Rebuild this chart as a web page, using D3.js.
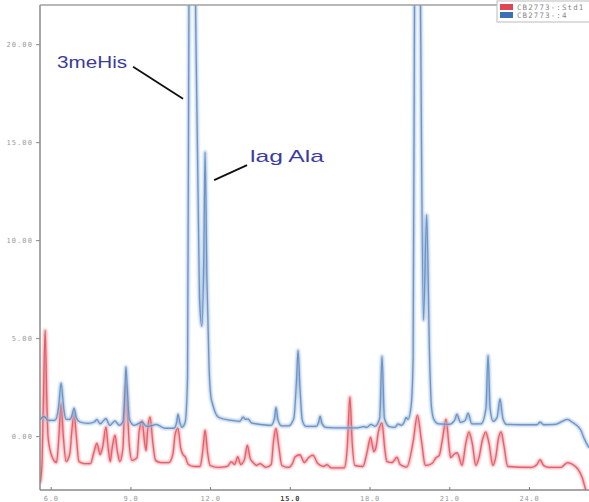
<!DOCTYPE html>
<html>
<head>
<meta charset="utf-8">
<script src="https://cdnjs.cloudflare.com/ajax/libs/d3/7.8.5/d3.min.js"></script>
<style>
    body { margin: 0; background: #fff; }
    svg { display: block; }
</style>
</head>
<body>
<div id="chart"></div>
<script>
// Retention time (min) ticks and signal ticks
var timeTicks = [6, 9, 12, 15, 18, 21, 24];
var signalTicks = [0, 5, 10, 15, 20];

// Legend entries
var seriesNames = ['CB2773-:Std1', 'CB2773-:4'];

// Sample trace (blue), [time, signal]
var sampleTrace = [
    [5.60, 0.85], [5.75, 1.00], [5.90, 0.80], [6.16, 0.80], [6.29, 1.40], [6.39, 2.72],
    [6.50, 1.30], [6.58, 0.85], [6.73, 0.85], [6.80, 1.05], [6.88, 1.43], [6.96, 0.95],
    [7.10, 0.72], [7.40, 0.65], [7.64, 0.72], [7.74, 0.85], [7.86, 0.62], [8.08, 0.90],
    [8.22, 0.55], [8.42, 0.78], [8.58, 0.55], [8.72, 0.75], [8.79, 2.20], [8.83, 3.55],
    [8.89, 2.20], [8.96, 0.85], [9.15, 0.55], [9.44, 0.72], [9.60, 0.50], [9.85, 0.55],
    [9.96, 0.60], [10.30, 0.40], [10.64, 0.40], [10.74, 0.70], [10.79, 1.12], [10.86, 0.70],
    [10.94, 0.45], [11.06, 0.70], [11.15, 3.0], [11.21, 25], [11.32, 40], [11.43, 25],
    [11.60, 7.0], [11.69, 5.6], [11.76, 9.0], [11.81, 14.5], [11.88, 8.0], [11.96, 3.5],
    [12.03, 2.0], [12.10, 1.6], [12.18, 1.25], [12.33, 0.95], [12.82, 0.80], [13.12, 0.75],
    [13.24, 0.98], [13.33, 0.85], [13.43, 0.88], [13.55, 0.68], [14.00, 0.58], [14.30, 0.55],
    [14.42, 0.90], [14.48, 1.48], [14.55, 0.85], [14.68, 0.52], [14.95, 0.52], [15.15, 0.90],
    [15.25, 2.80], [15.31, 4.39], [15.38, 2.50], [15.47, 0.80], [15.60, 0.50], [16.00, 0.50],
    [16.08, 0.70], [16.14, 1.02], [16.21, 0.65], [16.35, 0.45], [17.00, 0.42], [17.50, 0.42],
    [17.78, 0.48], [17.90, 0.45], [18.05, 0.60], [18.20, 0.50], [18.38, 0.90], [18.47, 4.08],
    [18.56, 0.90], [18.75, 0.48], [18.96, 0.45], [19.07, 0.62], [19.20, 0.55], [19.30, 0.70],
    [19.37, 0.95], [19.45, 0.85], [19.57, 1.60], [19.64, 4.0], [19.70, 25], [19.79, 40],
    [19.90, 25], [20.03, 5.9], [20.15, 11.3], [20.26, 4.0], [20.33, 1.5], [20.42, 0.85],
    [20.60, 0.62], [21.00, 0.60], [21.20, 0.80], [21.29, 1.12], [21.42, 0.70], [21.60, 0.80],
    [21.71, 1.17], [21.85, 0.62], [22.20, 0.62], [22.38, 1.40], [22.46, 4.13], [22.54, 1.40],
    [22.65, 0.75], [22.80, 0.95], [22.91, 1.90], [23.02, 0.90], [23.15, 0.60], [23.66, 0.58],
    [24.30, 0.58], [24.42, 0.72], [24.55, 0.58], [25.00, 0.60], [25.25, 0.75], [25.45, 0.85],
    [25.62, 0.72], [25.95, 0.31], [26.07, -0.10], [26.26, -0.60]
];

// Standard trace (red), [time, signal]
var standardTrace = [
    [5.60, -2.40], [5.67, -1.50], [5.72, 1.50], [5.79, 5.41], [5.86, 1.50], [5.90, -0.05],
    [6.05, -1.05], [6.22, -1.35], [6.29, -0.40], [6.39, 1.68], [6.48, -0.10], [6.58, -1.30],
    [6.72, -0.90], [6.79, 0.20], [6.88, 1.17], [6.97, -0.10], [7.06, -1.30], [7.25, -1.40],
    [7.50, -1.40], [7.62, -0.85], [7.74, -0.36], [7.86, -0.95], [7.95, -0.60], [8.08, 0.47],
    [8.17, -0.70], [8.24, -1.30], [8.32, -0.55], [8.42, 0.05], [8.51, -0.80], [8.60, -1.30],
    [8.72, -0.60], [8.77, 1.30], [8.83, 2.60], [8.89, 1.30], [8.96, -0.50], [9.06, -1.25],
    [9.25, -1.10], [9.33, 0.25], [9.44, 0.78], [9.53, -0.30], [9.59, -0.75], [9.65, 0.35],
    [9.74, 0.98], [9.84, -0.30], [9.95, -1.25], [10.15, -1.35], [10.45, -1.35], [10.60, -0.90],
    [10.69, 0.15], [10.79, 0.41], [10.89, -0.60], [10.98, -0.95], [11.06, -1.05], [11.18, -1.45],
    [11.40, -1.55], [11.62, -1.55], [11.71, -0.90], [11.81, 0.31], [11.91, -0.90], [12.00, -1.50],
    [12.30, -1.60], [12.65, -1.55], [12.80, -1.30], [12.92, -1.45], [13.04, -1.05], [13.15, -1.45],
    [13.29, -1.20], [13.40, -0.46], [13.51, -1.15], [13.62, -1.35], [13.75, -1.50], [13.88, -1.40],
    [14.10, -1.60], [14.30, -1.45], [14.39, -0.20], [14.48, 0.40], [14.58, -0.50], [14.70, -1.50],
    [14.95, -1.60], [15.10, -1.40], [15.20, -1.05], [15.38, -0.95], [15.55, -1.35], [15.70, -1.10],
    [15.87, -0.97], [16.05, -1.40], [16.28, -1.55], [16.40, -1.45], [16.55, -1.62], [17.05, -1.62],
    [17.16, -0.60], [17.26, 2.00], [17.35, -0.40], [17.45, -1.50], [17.75, -1.55], [17.91, -0.80],
    [18.04, -0.05], [18.16, -0.80], [18.24, -0.60], [18.33, 0.20], [18.47, 0.68], [18.57, -0.60],
    [18.65, -1.30], [18.85, -1.35], [19.03, -1.07], [19.15, -1.45], [19.40, -1.58], [19.64, -0.30],
    [19.80, 1.07], [19.96, -0.30], [20.10, -1.50], [20.35, -1.40], [20.50, -1.10], [20.62, -1.00],
    [20.74, -0.20], [20.88, 0.87], [20.99, -0.50], [21.05, -1.10], [21.20, -0.90], [21.30, -0.85],
    [21.48, -1.50], [21.62, -0.40], [21.74, 0.22], [21.87, -0.40], [22.00, -1.50], [22.12, -1.10],
    [22.24, -0.25], [22.37, 0.22], [22.50, -0.40], [22.64, -1.50], [22.76, -1.00], [22.84, -0.20],
    [22.95, 0.22], [23.06, -0.50], [23.20, -1.55], [24.10, -1.60], [24.30, -1.45], [24.42, -1.20],
    [24.55, -1.50], [24.75, -1.60], [25.20, -1.60], [25.45, -1.35], [25.65, -1.45], [25.85, -1.70],
    [26.00, -2.10], [26.15, -2.80], [26.26, -3.20]
];

// Peak labels: text position and leader line (data units)
var peakLabels = ['3meHis', 'lag Ala'];
var labelAnchors = [[6.24, 18.8], [13.50, 14.0]];
var leaderLines = [[[9.10, 18.85], [10.98, 17.22]], [[13.39, 13.83], [12.15, 13.06]]];

var width = 589, height = 502;
var margin = {left: 40, right: 0, top: 5, bottom: 12};

var traceColors = {
    red: {core: '#df4552', halo: '#f09aa2'},
    blue: {core: '#5583bb', halo: '#a3bfe0'}
};

var x = d3.scaleLinear().domain([5.597, 26.26]).range([margin.left, width - margin.right]);
var y = d3.scaleLinear().domain([-2.75, 22]).range([height - margin.bottom, margin.top]);

var svg = d3.select('#chart').append('svg')
    .attr('width', width)
    .attr('height', height);

var defs = svg.append('defs');
defs.append('clipPath').attr('id', 'plotClip')
    .append('rect')
    .attr('x', margin.left)
    .attr('y', margin.top)
    .attr('width', width - margin.left - margin.right)
    .attr('height', height - margin.top - margin.bottom);
// soft edge, like the scanned print
defs.append('filter').attr('id', 'soft')
    .attr('x', '-5%').attr('y', '-5%').attr('width', '110%').attr('height', '110%')
    .append('feGaussianBlur').attr('stdDeviation', 0.9);

var line = d3.line()
    .x(function(d) { return x(d[0]); })
    .y(function(d) { return y(d[1]); })
    .curve(d3.curveMonotoneX);

var plot = svg.append('g').attr('clip-path', 'url(#plotClip)');

// draw each trace with a blurred halo under a thin core
function drawTrace(data, colors) {
    plot.append('path')
        .datum(data)
        .attr('fill', 'none')
        .attr('stroke', colors.halo)
        .attr('stroke-width', 3.2)
        .attr('stroke-opacity', 0.9)
        .attr('stroke-linejoin', 'round')
        .attr('filter', 'url(#soft)')
        .attr('d', line);
    plot.append('path')
        .datum(data)
        .attr('fill', 'none')
        .attr('stroke', colors.core)
        .attr('stroke-width', 1.3)
        .attr('stroke-opacity', 0.75)
        .attr('stroke-linejoin', 'round')
        .attr('d', line);
}

drawTrace(standardTrace, traceColors.red);
drawTrace(sampleTrace, traceColors.blue);

// Axes
var yAxis = d3.axisLeft(y).tickValues(signalTicks).tickSize(4).tickPadding(3)
    .tickFormat(d3.format('.2f'));
var gy = svg.append('g').attr('transform', 'translate(' + margin.left + ',0)').call(yAxis);
gy.select('.domain').remove();
gy.selectAll('.tick line').attr('stroke', '#888');
gy.selectAll('.tick text')
    .attr('fill', '#9a9a9a')
    .style('font', '7px "DejaVu Sans Mono", monospace')
    .style('letter-spacing', '1.1px');

var xAxis = d3.axisBottom(x).tickValues(timeTicks).tickSize(-3).tickPadding(6)
    .tickFormat(d3.format('.1f'));
var gx = svg.append('g').attr('transform', 'translate(0,' + (height - margin.bottom) + ')').call(xAxis);
gx.select('.domain').remove();
gx.selectAll('.tick line').attr('stroke', '#777');
gx.selectAll('.tick text')
    .style('font', '7px "DejaVu Sans Mono", monospace')
    .style('letter-spacing', '0.8px')
    .style('font-weight', function(d) { return d === 15 ? 'bold' : 'normal'; })
    .attr('fill', function(d) { return d === 15 ? '#444' : '#999'; });

// Frame: left, bottom and top lines
svg.append('line')
    .attr('x1', margin.left).attr('x2', margin.left)
    .attr('y1', margin.top).attr('y2', height - margin.bottom)
    .attr('stroke', '#8a8a8a').attr('stroke-width', 1.5);
svg.append('line')
    .attr('x1', margin.left).attr('x2', width)
    .attr('y1', height - margin.bottom).attr('y2', height - margin.bottom)
    .attr('stroke', '#8a8a8a').attr('stroke-width', 1.5);
svg.append('line')
    .attr('x1', margin.left).attr('x2', width)
    .attr('y1', margin.top).attr('y2', margin.top)
    .attr('stroke', '#a0a0a0').attr('stroke-width', 1.5);

// Peak labels with leader lines (the scan stretches the lettering sideways)
var labelWidths = [70, 74];
peakLabels.forEach(function(label, i) {
    svg.append('text')
        .attr('x', x(labelAnchors[i][0]))
        .attr('y', y(labelAnchors[i][1]))
        .attr('fill', '#3c3ca0')
        .attr('textLength', labelWidths[i])
        .attr('lengthAdjust', 'spacingAndGlyphs')
        .style('font', '17px "Liberation Sans", Arial, sans-serif')
        .text(label);
    svg.append('line')
        .attr('x1', x(leaderLines[i][0][0])).attr('y1', y(leaderLines[i][0][1]))
        .attr('x2', x(leaderLines[i][1][0])).attr('y2', y(leaderLines[i][1][1]))
        .attr('stroke', '#111').attr('stroke-width', 1.8);
});

// Legend box in the top right corner
var legend = svg.append('g').attr('transform', 'translate(497,1)');
legend.append('rect')
    .attr('width', 100).attr('height', 21)
    .attr('fill', '#fff').attr('stroke', '#bbb').attr('stroke-width', 1);
var legendColors = [traceColors.red.core, '#3b6fb3'];
seriesNames.forEach(function(name, i) {
    legend.append('rect')
        .attr('x', 3).attr('y', 3 + i * 8)
        .attr('width', 13).attr('height', 6)
        .attr('fill', legendColors[i]);
    legend.append('text')
        .attr('x', 20).attr('y', 9 + i * 8)
        .attr('fill', '#888')
        .style('font', '7.5px "DejaVu Sans Mono", monospace')
        .style('letter-spacing', '1.1px')
        .text(name);
});
</script>
</body>
</html>
